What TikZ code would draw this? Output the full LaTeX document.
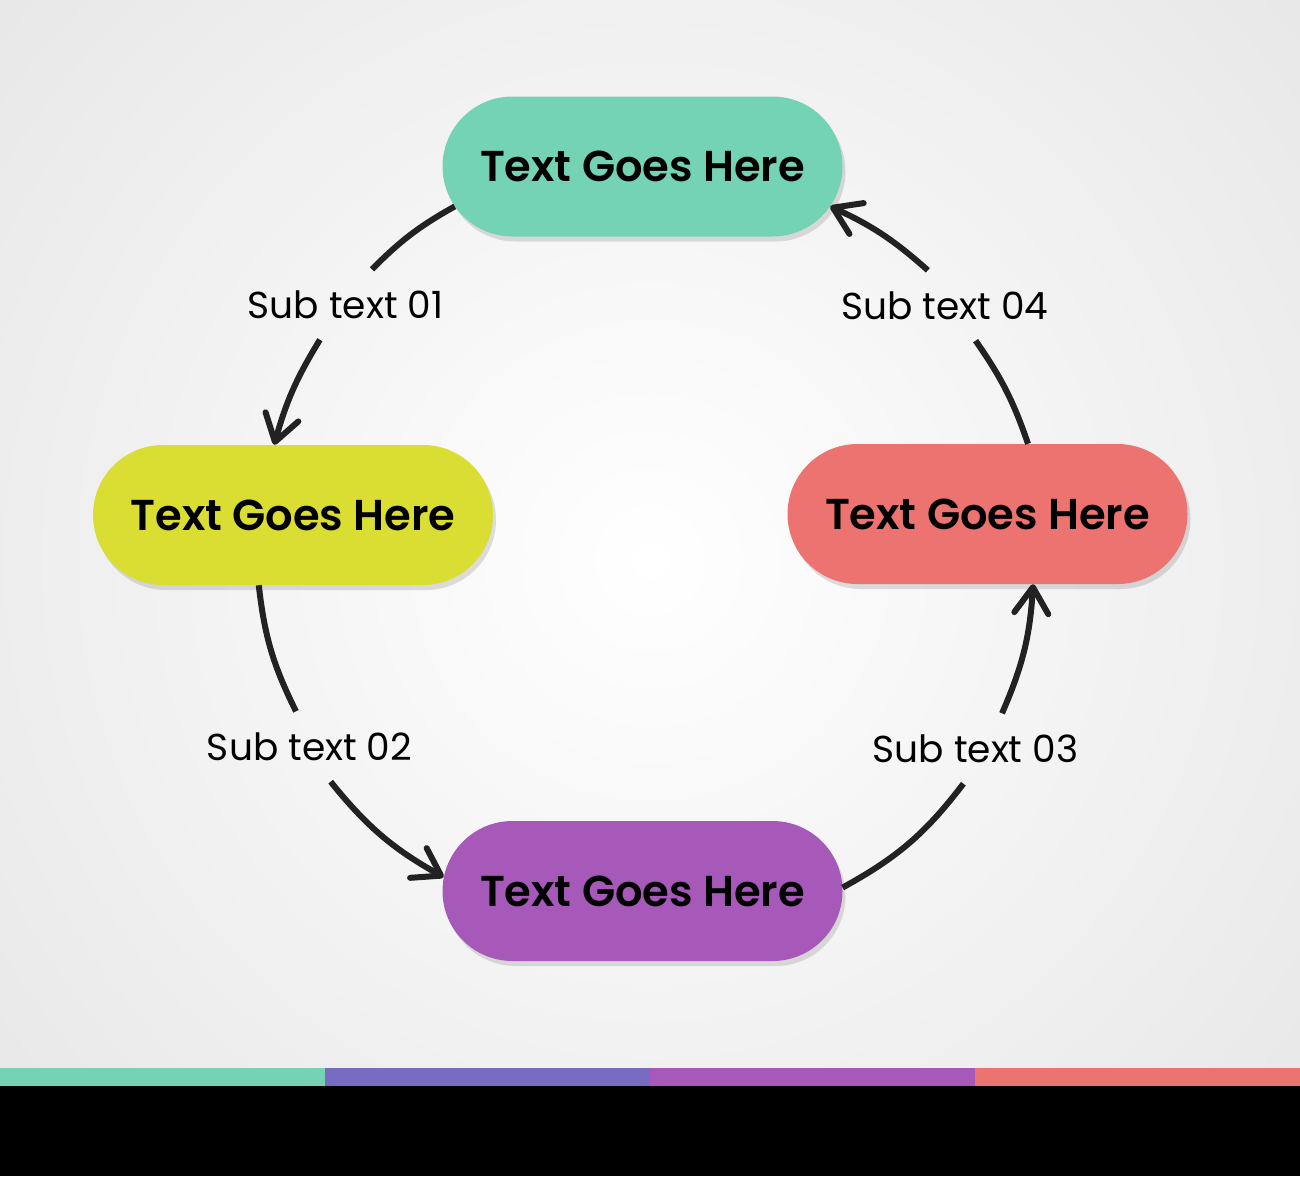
\documentclass[tikz,border=0pt]{standalone}
\usepackage{fontspec}
\setmainfont{Poppins}[BoldFont={* SemiBold}]
\usetikzlibrary{arrows.meta,shapes.misc,shadows}
\definecolor{mint}{HTML}{74D3B4}
\definecolor{lime}{HTML}{DADE33}
\definecolor{coral}{HTML}{EC7370}
\definecolor{grape}{HTML}{A659B9}
\definecolor{iris}{HTML}{786BC2}
\definecolor{ink}{HTML}{222222}
\begin{document}
\begin{tikzpicture}[x=1pt,y=-1pt,
  pill/.style={rounded rectangle, minimum width=400pt, minimum height=140pt, inner sep=0pt,
    font=\fontsize{43.2}{50}\selectfont\bfseries,
    drop shadow={shadow xshift=3pt, shadow yshift=-5pt, opacity=.12, fill=black}},
  sub/.style={inner xsep=4pt, inner ysep=0pt, minimum height=70pt, font=\fontsize{37.5}{42}\selectfont},
  flow/.style={ink, line width=6pt},
  tip/.style={-{Straight Barb[length=26pt,width=34pt,line cap=round,line join=round]}}]
\useasboundingbox (0,0) rectangle (1300,1176);
\begin{scope}
\clip (0,0) rectangle (1300,1068);
\shade[inner color=white, outer color=black!17] (650,560) circle[radius=1600];
\end{scope}
\fill[mint] (0,1068) rectangle (325,1086);
\fill[iris] (325,1068) rectangle (650,1086);
\fill[grape] (650,1068) rectangle (975,1086);
\fill[coral] (975,1068) rectangle (1300,1086);
\fill[black] (0,1086) rectangle (1300,1176);

\node[pill, fill=mint] (top) at (642.5,166.5) {Text Goes Here};
\node[pill, fill=lime] (left) at (293,515) {Text Goes Here};
\node[pill, fill=coral] (right) at (987.5,514) {Text Goes Here};
\node[pill, fill=grape] (bottom) at (642.5,891) {Text Goes Here};

\node[sub] (s1) at (345.5,304.5) {Sub text 01};
\node[sub] (s2) at (309.5,746.5) {Sub text 02};
\node[sub] (s3) at (975.5,748.5) {Sub text 03};
\node[sub] (s4) at (945,305.5) {Sub text 04};

\draw[flow] (top.192.5) to[bend right=8] (s1.53);
\draw[flow, tip] (s1.234.3) to[bend right=8] (left.105.6);
\draw[flow] (left.244.8) to[bend right=10] (s2.111.6);
\draw[flow, tip] (s2.301.4) to[bend right=11] (bottom.176.8);
\draw[flow] (bottom.1.2) to[bend right=12] (s3.251.1);
\draw[flow, tip] (s3.53.8) to[bend right=10] (right.303.8);
\draw[flow] (right.60.9) to[bend right=8] (s4.311.2);
\draw[flow, tip] (s4.116.9) to[bend right=8.5] (top.348.7);
\end{tikzpicture}
\end{document}
